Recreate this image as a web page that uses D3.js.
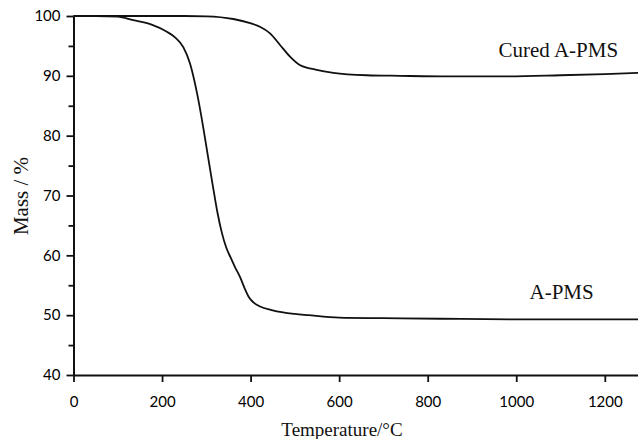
<!DOCTYPE html>
<html>
<head>
<meta charset="utf-8">
<script src="https://cdn.jsdelivr.net/npm/d3@7"></script>
<style>
	body { margin: 0; background: #fff; }
	svg { display: block; }
	.tick text { font-family: Lato, 'Open Sans', sans-serif; font-size: 15px; fill: #000; }
	.lbl { font-family: 'Liberation Serif', 'Times New Roman', serif; fill: #111; }
</style>
</head>
<body>
<div class="chart-container"></div>
<script>
// Temperature (°C) and mass (%)
const curedTemp = [0, 150, 250, 300, 361, 399, 421, 444, 466, 489, 511, 549, 587, 662, 738, 850, 963, 1100, 1200, 1275];
const curedMass = [100, 100, 100, 99.95, 99.5, 98.8, 98.2, 97.1, 95.2, 93.2, 91.8, 91.0, 90.5, 90.1, 90.0, 89.9, 89.9, 90.1, 90.3, 90.5];

const apmsTemp = [0, 50, 100, 135, 175, 210, 230, 248, 263, 279, 293, 304, 315, 325, 335, 345, 355, 365, 376, 387, 397, 407, 420, 450, 500, 530, 600, 700, 830, 1000, 1100, 1275];
const apmsMass = [100, 100, 99.9, 99.3, 98.6, 97.4, 96.4, 94.8, 92.1, 87.1, 81.4, 76.4, 71.5, 67.2, 63.8, 61.3, 59.6, 58.0, 56.4, 54.4, 52.9, 52.1, 51.5, 50.8, 50.2, 50.0, 49.6, 49.5, 49.4, 49.3, 49.3, 49.3];

const xTicks = [0, 200, 400, 600, 800, 1000, 1200];
const yTicks = [40, 50, 60, 70, 80, 90, 100];
const yMinor = [45, 55, 65, 75, 85, 95];

const seriesNames = ['Cured A-PMS', 'A-PMS'];

let width = 638, height = 439;
let margin = { top: 16, right: 0, bottom: 64, left: 73.5 };

let svg = d3
	.select('.chart-container')
	.append('svg')
	.attr('width', width)
	.attr('height', height);

let x = d3.scaleLinear().domain([ 0, 1275 ]).range([ margin.left, width - margin.right ]);
let y = d3.scaleLinear().domain([ 40, 100 ]).range([ height - margin.bottom, margin.top ]);

// minor y ticks
svg
	.append('g')
	.attr('transform', 'translate(' + margin.left + ',0)')
	.call(d3.axisLeft(y).tickValues(yMinor).tickSize(5).tickFormat(''))
	.call((g) => g.select('.domain').remove())
	.selectAll('line')
	.attr('stroke', '#111')
	.attr('stroke-width', 1.8);

let yAxis = svg
	.append('g')
	.attr('transform', 'translate(' + margin.left + ',0)')
	.call(d3.axisLeft(y).tickValues(yTicks).tickSize(7).tickPadding(6).tickSizeOuter(0));

let xAxis = svg
	.append('g')
	.attr('transform', 'translate(0,' + (height - margin.bottom) + ')')
	.call(d3.axisBottom(x).tickValues(xTicks).tickFormat(d3.format('d')).tickSize(7).tickPadding(14).tickSizeOuter(0));

[ xAxis, yAxis ].forEach(function(g) {
	g.select('.domain').attr('stroke', '#111').attr('stroke-width', 2);
	g.selectAll('.tick line').attr('stroke', '#111').attr('stroke-width', 1.8);
});

let line = d3
	.line()
	.curve(d3.curveMonotoneX)
	.x((d) => x(d[0]))
	.y((d) => y(d[1]));

let curves = [ d3.zip(curedTemp, curedMass), d3.zip(apmsTemp, apmsMass) ];

curves.forEach(function(c) {
	svg
		.append('path')
		.datum(c)
		.attr('fill', 'none')
		.attr('stroke', '#111')
		.attr('stroke-width', 1.8)
		.attr('d', line);
});

// curve labels
svg.append('text').attr('class', 'lbl').attr('x', x(960)).attr('y', y(93.2))
	.attr('font-size', 21).text(seriesNames[0]);
svg.append('text').attr('class', 'lbl').attr('x', x(1030)).attr('y', y(52.7))
	.attr('font-size', 21).text(seriesNames[1]);

// axis titles
svg.append('text').attr('class', 'lbl').attr('text-anchor', 'middle')
	.attr('x', 342).attr('y', 436).attr('font-size', 19).text('Temperature/°C');

svg.append('g')
	.attr('transform', 'translate(28,196)')
	.append('text').attr('class', 'lbl').attr('text-anchor', 'middle')
	.attr('transform', 'rotate(-90)').attr('font-size', 21).text('Mass / %');
</script>
</body>
</html>
